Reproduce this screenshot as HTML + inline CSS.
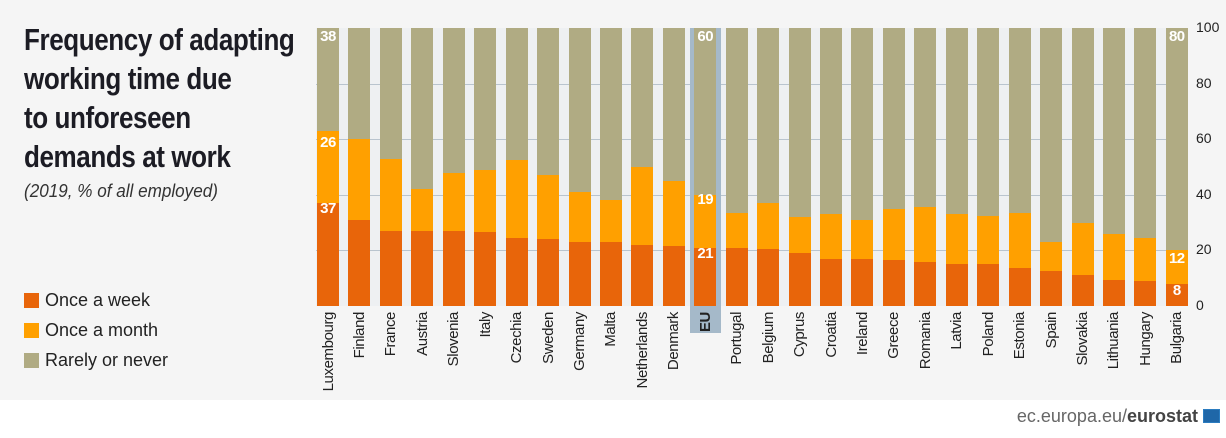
<!DOCTYPE html>
<html><head><meta charset="utf-8"><style>
*{margin:0;padding:0;box-sizing:border-box}
body{width:1226px;height:438px;background:#f5f5f5;position:relative;overflow:hidden;font-family:"Liberation Sans",sans-serif}
.title{position:absolute;left:24px;top:20px;font-weight:bold;font-size:31px;line-height:39px;color:#1c1c24;letter-spacing:-0.5px;transform:scaleX(0.84);transform-origin:0 0;white-space:nowrap}
.sub{position:absolute;left:24px;top:181px;font-style:italic;font-size:18px;color:#333;transform:scaleX(0.95);transform-origin:0 0;white-space:nowrap}
.leg{position:absolute;left:24px;font-size:18px;color:#222}
.leg i{display:inline-block;width:15px;height:15px;vertical-align:-2px;margin-right:6px}
.grid{position:absolute;left:316px;width:872px;height:1px;background:#b9c4ce}
.plot{position:absolute;left:316px;top:28px;width:872px;height:278px;background:#eef0f2}
.bars{position:absolute;left:317px;top:28px;width:871px;display:flex;justify-content:space-between}
.col{width:22px;display:flex;flex-direction:column;align-items:center}
.bar{width:22px;height:278px;display:flex;flex-direction:column-reverse;position:relative}
.w{background:#e8650a}.m{background:#ffa000}.r{background:#b0ab83;flex:1}
.lab{writing-mode:vertical-rl;transform:rotate(180deg);font-size:15px;letter-spacing:-0.4px;color:#222;margin-top:6px;white-space:nowrap;text-align:right}
.v{position:absolute;left:-2px;width:26px;text-align:center;color:#fff;font-weight:bold;font-size:15px;letter-spacing:-0.5px}
.eu{position:absolute;left:690px;top:28px;width:31px;height:305px;background:#a5b9c9}
.ax{position:absolute;left:1196px;font-size:14px;color:#222}
.foot{position:absolute;left:0;top:400px;width:1226px;height:38px;background:#fff}
.url{position:absolute;right:28px;top:406px;font-family:"Liberation Sans",sans-serif;font-size:18px;color:#666}
.url b{color:#444}
.flag{position:absolute;left:1203px;top:409px;width:17px;height:14px;background:#1f67a8;border:1px solid #2b7cc0}
</style></head><body>
<div class="title">Frequency of adapting<br>working time due<br>to unforeseen<br>demands at work</div>
<div class="sub">(2019, % of all employed)</div>
<div class="leg" style="top:290px"><i style="background:#e8650a"></i>Once a week</div>
<div class="leg" style="top:320px"><i style="background:#ffa000"></i>Once a month</div>
<div class="leg" style="top:350px"><i style="background:#b0ab83"></i>Rarely or never</div>
<div class="plot"></div>
<div class="grid" style="top:84px"></div><div class="grid" style="top:139px"></div><div class="grid" style="top:195px"></div><div class="grid" style="top:250px"></div>
<div class="eu"></div>
<div class="bars">
<div class="col"><div class="bar"><div class="w" style="height:37%"></div><div class="m" style="height:26%"></div><div class="r"></div><span class="v" style="top:0">38</span><span class="v" style="top:106px">26</span><span class="v" style="top:172px">37</span></div><div class="lab">Luxembourg</div></div>
<div class="col"><div class="bar"><div class="w" style="height:31%"></div><div class="m" style="height:29%"></div><div class="r"></div></div><div class="lab">Finland</div></div>
<div class="col"><div class="bar"><div class="w" style="height:27%"></div><div class="m" style="height:26%"></div><div class="r"></div></div><div class="lab">France</div></div>
<div class="col"><div class="bar"><div class="w" style="height:27%"></div><div class="m" style="height:15%"></div><div class="r"></div></div><div class="lab">Austria</div></div>
<div class="col"><div class="bar"><div class="w" style="height:27%"></div><div class="m" style="height:21%"></div><div class="r"></div></div><div class="lab">Slovenia</div></div>
<div class="col"><div class="bar"><div class="w" style="height:26.5%"></div><div class="m" style="height:22.5%"></div><div class="r"></div></div><div class="lab">Italy</div></div>
<div class="col"><div class="bar"><div class="w" style="height:24.5%"></div><div class="m" style="height:28%"></div><div class="r"></div></div><div class="lab">Czechia</div></div>
<div class="col"><div class="bar"><div class="w" style="height:24%"></div><div class="m" style="height:23%"></div><div class="r"></div></div><div class="lab">Sweden</div></div>
<div class="col"><div class="bar"><div class="w" style="height:23%"></div><div class="m" style="height:18%"></div><div class="r"></div></div><div class="lab">Germany</div></div>
<div class="col"><div class="bar"><div class="w" style="height:23%"></div><div class="m" style="height:15%"></div><div class="r"></div></div><div class="lab">Malta</div></div>
<div class="col"><div class="bar"><div class="w" style="height:22%"></div><div class="m" style="height:28%"></div><div class="r"></div></div><div class="lab">Netherlands</div></div>
<div class="col"><div class="bar"><div class="w" style="height:21.5%"></div><div class="m" style="height:23.5%"></div><div class="r"></div></div><div class="lab">Denmark</div></div>
<div class="col"><div class="bar"><div class="w" style="height:21%"></div><div class="m" style="height:19%"></div><div class="r"></div><span class="v" style="top:0">60</span><span class="v" style="top:163px">19</span><span class="v" style="top:217px">21</span></div><div class="lab" style="font-weight:bold">EU</div></div>
<div class="col"><div class="bar"><div class="w" style="height:21%"></div><div class="m" style="height:12.5%"></div><div class="r"></div></div><div class="lab">Portugal</div></div>
<div class="col"><div class="bar"><div class="w" style="height:20.5%"></div><div class="m" style="height:16.5%"></div><div class="r"></div></div><div class="lab">Belgium</div></div>
<div class="col"><div class="bar"><div class="w" style="height:19%"></div><div class="m" style="height:13%"></div><div class="r"></div></div><div class="lab">Cyprus</div></div>
<div class="col"><div class="bar"><div class="w" style="height:17%"></div><div class="m" style="height:16%"></div><div class="r"></div></div><div class="lab">Croatia</div></div>
<div class="col"><div class="bar"><div class="w" style="height:17%"></div><div class="m" style="height:14%"></div><div class="r"></div></div><div class="lab">Ireland</div></div>
<div class="col"><div class="bar"><div class="w" style="height:16.5%"></div><div class="m" style="height:18.5%"></div><div class="r"></div></div><div class="lab">Greece</div></div>
<div class="col"><div class="bar"><div class="w" style="height:16%"></div><div class="m" style="height:19.5%"></div><div class="r"></div></div><div class="lab">Romania</div></div>
<div class="col"><div class="bar"><div class="w" style="height:15%"></div><div class="m" style="height:18%"></div><div class="r"></div></div><div class="lab">Latvia</div></div>
<div class="col"><div class="bar"><div class="w" style="height:15%"></div><div class="m" style="height:17.5%"></div><div class="r"></div></div><div class="lab">Poland</div></div>
<div class="col"><div class="bar"><div class="w" style="height:13.5%"></div><div class="m" style="height:20%"></div><div class="r"></div></div><div class="lab">Estonia</div></div>
<div class="col"><div class="bar"><div class="w" style="height:12.5%"></div><div class="m" style="height:10.5%"></div><div class="r"></div></div><div class="lab">Spain</div></div>
<div class="col"><div class="bar"><div class="w" style="height:11%"></div><div class="m" style="height:19%"></div><div class="r"></div></div><div class="lab">Slovakia</div></div>
<div class="col"><div class="bar"><div class="w" style="height:9.5%"></div><div class="m" style="height:16.5%"></div><div class="r"></div></div><div class="lab">Lithuania</div></div>
<div class="col"><div class="bar"><div class="w" style="height:9%"></div><div class="m" style="height:15.5%"></div><div class="r"></div></div><div class="lab">Hungary</div></div>
<div class="col"><div class="bar"><div class="w" style="height:8%"></div><div class="m" style="height:12%"></div><div class="r"></div><span class="v" style="top:0">80</span><span class="v" style="top:222px">12</span><span class="v" style="top:254px">8</span></div><div class="lab">Bulgaria</div></div>
</div>
<div class="ax" style="top:19px">100</div><div class="ax" style="top:75px">80</div><div class="ax" style="top:130px">60</div><div class="ax" style="top:186px">40</div><div class="ax" style="top:241px">20</div><div class="ax" style="top:297px">0</div>
<div class="foot"></div>
<div class="url">ec.europa.eu/<b>eurostat</b></div>
<div class="flag"></div>
</body></html>
